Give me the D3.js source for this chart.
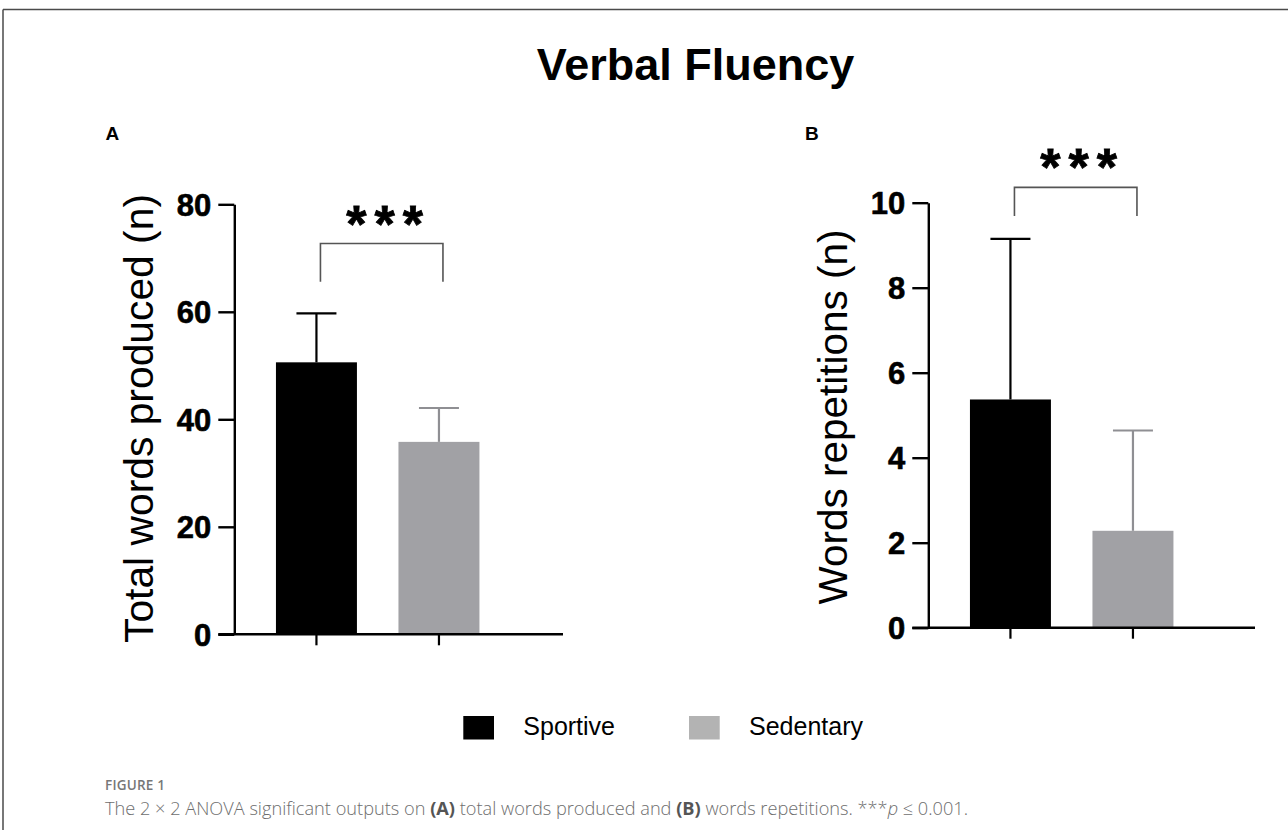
<!DOCTYPE html>
<html><head><meta charset="utf-8">
<script src="https://cdn.jsdelivr.net/npm/d3@7"></script>
<style>
html,body{margin:0;padding:0;background:#fff;}
svg{display:block;}
</style></head>
<body>
<svg id="chart" width="1288" height="830"></svg>
<script>
// ---- data ----
const groups = ["Sportive", "Sedentary"];
const groupColors = ["#000000", "#a1a1a5"];
const errColors = ["#000000", "#8f8f93"];
const legendColors = ["#000000", "#b3b3b3"];

const totalWordsMean = [50.6, 35.8];
const totalWordsSD = [9.1, 6.3];
const totalWordsTicks = [0, 20, 40, 60, 80];

const repetitionsMean = [5.37, 2.28];
const repetitionsSD = [3.78, 2.36];
const repetitionsTicks = [0, 2, 4, 6, 8, 10];

const title = "Verbal Fluency";
const panelA = {label: "A", yLabel: "Total words produced (n)", mean: totalWordsMean, sd: totalWordsSD,
  ticks: totalWordsTicks, max: 80, bracket: [72.7, 65.6]};
const panelB = {label: "B", yLabel: "Words repetitions (n)", mean: repetitionsMean, sd: repetitionsSD,
  ticks: repetitionsTicks, max: 10, bracket: [10.36, 9.69]};

const svg = d3.select("#chart");
const FONT = "'Liberation Sans', Arial, Helvetica, sans-serif";

// frame
svg.append("line").attr("x1", 3).attr("x2", 1288).attr("y1", 9.5).attr("y2", 9.5)
  .attr("stroke", "#4a4a4a").attr("stroke-width", 1.5);
svg.append("line").attr("x1", 3).attr("x2", 3).attr("y1", 9.5).attr("y2", 830)
  .attr("stroke", "#4a4a4a").attr("stroke-width", 1.5);

// title
svg.append("text").attr("x", 695.5).attr("y", 79.5).attr("text-anchor", "middle")
  .attr("font-family", FONT).attr("font-weight", "bold").attr("font-size", 45)
  .attr("fill", "#000").text(title);

function drawPanel(p, cfg) {
  const g = svg.append("g");
  const y = d3.scaleLinear().domain([0, p.max]).range([cfg.y0, cfg.y1]);
  const x = d3.scaleBand().domain(groups).range([cfg.x0, cfg.x0 + 286.8])
    .paddingInner(0.339).paddingOuter(0.34);

  // panel label
  g.append("text").attr("x", cfg.labelX).attr("y", 139.5)
    .attr("font-family", FONT).attr("font-weight", "bold").attr("font-size", 19)
    .text(p.label);

  // bars
  g.selectAll("rect.bar").data(groups).join("rect").attr("class", "bar")
    .attr("x", d => x(d)).attr("width", x.bandwidth())
    .attr("y", (d, i) => y(p.mean[i])).attr("height", (d, i) => y(0) - y(p.mean[i]))
    .attr("fill", (d, i) => groupColors[i]);

  // error bars (upper)
  groups.forEach((d, i) => {
    const cx = x(d) + x.bandwidth() / 2;
    const top = y(p.mean[i] + p.sd[i]);
    g.append("line").attr("x1", cx).attr("x2", cx).attr("y1", y(p.mean[i])).attr("y2", top)
      .attr("stroke", errColors[i]).attr("stroke-width", 2.2);
    g.append("line").attr("x1", cx - 20).attr("x2", cx + 20).attr("y1", top).attr("y2", top)
      .attr("stroke", errColors[i]).attr("stroke-width", 2.2);
  });

  // y axis
  const ya = d3.axisLeft(y).tickValues(p.ticks).tickSize(16).tickSizeOuter(0).tickPadding(7);
  const yg = g.append("g").attr("transform", `translate(${cfg.x0},0)`).call(ya);
  yg.select(".domain").attr("stroke", "#000").attr("stroke-width", 2.4);
  yg.selectAll(".tick line").attr("stroke", "#000").attr("stroke-width", 2.4);
  yg.selectAll(".tick text").attr("font-family", FONT).attr("font-weight", "bold")
    .attr("font-size", 31).attr("fill", "#000").attr("dy", "0.36em")
    .attr("stroke", "#000").attr("stroke-width", 0.6);

  // x axis
  const xa = d3.axisBottom(x).tickSize(11).tickSizeOuter(0).tickFormat("");
  const xg = g.append("g").attr("transform", `translate(0,${cfg.y0})`).call(xa);
  xg.select(".domain").remove();
  xg.selectAll(".tick line").attr("stroke", "#000").attr("stroke-width", 2.2);
  g.append("line").attr("x1", cfg.x0 - 16).attr("x2", cfg.xEnd).attr("y1", cfg.y0).attr("y2", cfg.y0)
    .attr("stroke", "#000").attr("stroke-width", 2.4);

  // y label
  g.append("text").attr("transform", `translate(${cfg.yLabelX},${cfg.yLabelY}) rotate(-90)`)
    .attr("text-anchor", "middle").attr("font-family", FONT).attr("font-size", cfg.yLabelSize)
    .attr("fill", "#000").text(p.yLabel);

  // significance bracket
  const bx1 = x(groups[0]) + x.bandwidth() / 2 + 4;
  const bx2 = x(groups[1]) + x.bandwidth() / 2 + 4;
  const by = y(p.bracket[0]), bb = y(p.bracket[1]);
  g.append("path").attr("d", `M${bx1},${bb}V${by}H${bx2}V${bb}`)
    .attr("fill", "none").attr("stroke", "#555").attr("stroke-width", 1.6);
  g.append("text").attr("x", (bx1 + bx2) / 2 + 3 + 4).attr("y", by - 2)
    .attr("text-anchor", "middle").attr("font-family", FONT).attr("font-weight", "bold")
    .attr("font-size", 52).attr("letter-spacing", 8).attr("fill", "#000")
    .attr("stroke", "#000").attr("stroke-width", 0.8).text("***");
}

drawPanel(panelA, {x0: 234.3, y0: 634.3, y1: 204.3, xEnd: 563, labelX: 105.5, yLabelX: 153, yLabelY: 418.5, yLabelSize: 40.8});
drawPanel(panelB, {x0: 928.3, y0: 627.7, y1: 202.7, xEnd: 1255, labelX: 805, yLabelX: 846.5, yLabelY: 417, yLabelSize: 40.5});

// legend
const lg = svg.append("g");
const legendX = [463.3, 689];
groups.forEach((d, i) => {
  lg.append("rect").attr("x", legendX[i]).attr("y", 716).attr("width", 30.7).attr("height", 23.5)
    .attr("fill", legendColors[i]);
  lg.append("text").attr("x", legendX[i] + 60).attr("y", 734.5)
    .attr("font-family", FONT).attr("font-size", 25).attr("fill", "#000").text(d);
});

// caption
const CAP = "'Open Sans', 'Noto Sans', sans-serif";
svg.append("text").attr("x", 105).attr("y", 790).attr("font-family", CAP).attr("font-size", 13.5)
  .attr("font-weight", 600).attr("fill", "#777").attr("letter-spacing", 0.2).text("FIGURE 1");
const cap = svg.append("text").attr("x", 105).attr("y", 815).attr("font-family", CAP)
  .attr("font-size", 18.2).attr("font-weight", 300).attr("fill", "#6e6e6e");
cap.append("tspan").text("The 2 × 2 ANOVA significant outputs on ");
cap.append("tspan").attr("font-weight", 700).attr("fill", "#555").text("(A)");
cap.append("tspan").text(" total words produced and ");
cap.append("tspan").attr("font-weight", 700).attr("fill", "#555").text("(B)");
cap.append("tspan").text(" words repetitions. ***");
cap.append("tspan").attr("font-style", "italic").text("p");
cap.append("tspan").text(" ≤ 0.001.");
</script>
</body></html>
